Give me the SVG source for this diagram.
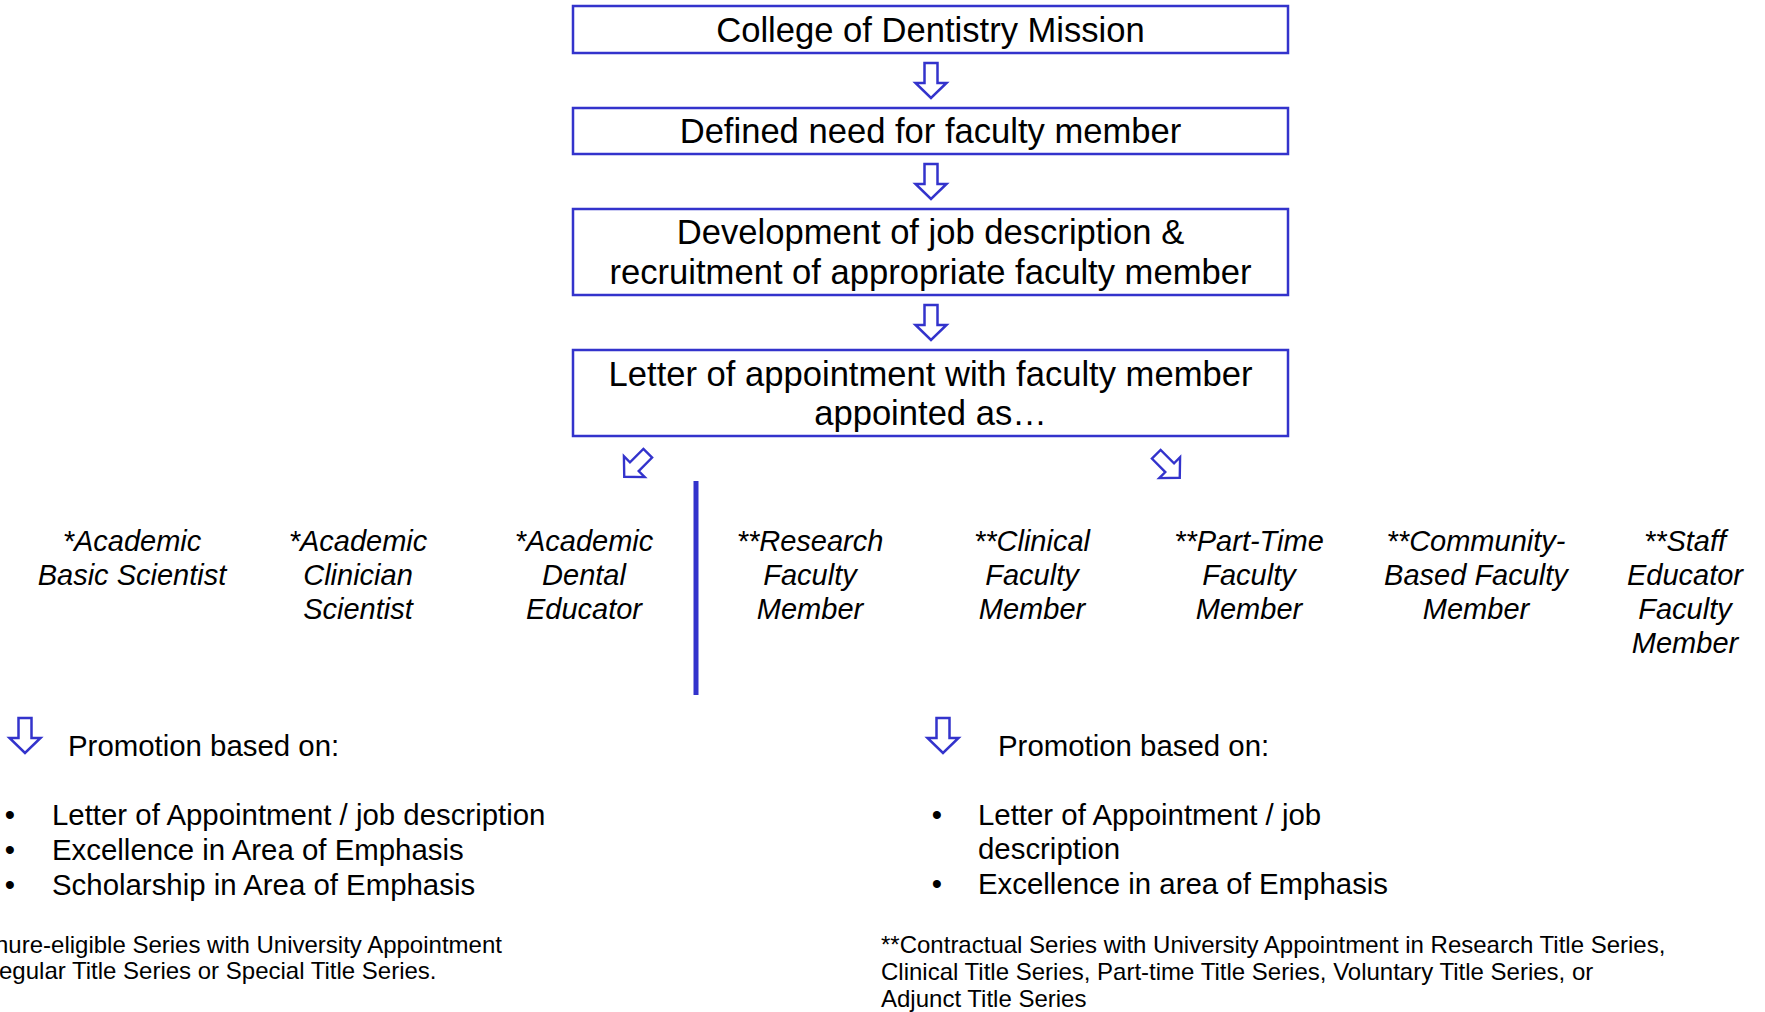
<svg xmlns="http://www.w3.org/2000/svg" width="1765" height="1012" viewBox="0 0 1765 1012">
  <defs>
    <style>
      .box { fill: #ffffff; stroke: #3333cc; stroke-width: 2.5; }
      .arrow { fill: #ffffff; stroke: #3333cc; stroke-width: 2.5; stroke-linejoin: miter; }
      .divider { stroke: #3333cc; stroke-width: 5; }
      .boxtext { font-family: "Liberation Sans", Arial, sans-serif; font-size: 34.6px; fill: #000; text-anchor: middle; }
      .role { font-family: "Liberation Sans", Arial, sans-serif; font-size: 29px; font-style: italic; fill: #000; text-anchor: middle; }
      .body { font-family: "Liberation Sans", Arial, sans-serif; font-size: 29.4px; fill: #000; }
      .bullet { font-family: "Liberation Sans", Arial, sans-serif; font-size: 29.4px; fill: #000; text-anchor: middle; }
      .note { font-family: "Liberation Sans", Arial, sans-serif; font-size: 24px; fill: #000; }
    </style>
    <polygon id="downArrow" points="-6.5,0 6.5,0 6.5,20 15.5,20 0,35 -15.5,20 -6.5,20"/>
  </defs>
  <rect width="1765" height="1012" fill="#ffffff"/>

  <g id="connectors">
    <use href="#downArrow" class="arrow" x="931" y="63"/>
    <use href="#downArrow" class="arrow" x="931" y="164"/>
    <use href="#downArrow" class="arrow" x="931" y="305"/>
    <g transform="translate(636,465) rotate(45) scale(0.95) translate(0,-17.5)"><use href="#downArrow" class="arrow"/></g>
    <g transform="translate(1168,466) rotate(-45) scale(0.95) translate(0,-17.5)"><use href="#downArrow" class="arrow"/></g>
    <line class="divider" x1="696" y1="481" x2="696" y2="695"/>
    <use href="#downArrow" class="arrow" x="25" y="718"/>
    <use href="#downArrow" class="arrow" x="943" y="718"/>
  </g>

  <g id="node-mission">
    <rect class="box" x="573" y="6" width="715" height="47"/>
    <text class="boxtext" x="930.5" y="42">College of Dentistry Mission</text>
  </g>
  <g id="node-need">
    <rect class="box" x="573" y="108" width="715" height="46"/>
    <text class="boxtext" x="930.5" y="143">Defined need for faculty member</text>
  </g>
  <g id="node-development">
    <rect class="box" x="573" y="209" width="715" height="86"/>
    <text class="boxtext" x="930.5" y="244">Development of job description &amp;</text>
    <text class="boxtext" x="930.5" y="284">recruitment of appropriate faculty member</text>
  </g>
  <g id="node-letter">
    <rect class="box" x="573" y="350" width="715" height="86"/>
    <text class="boxtext" x="930.5" y="386">Letter of appointment with faculty member</text>
    <text class="boxtext" x="930.5" y="425">appointed as…</text>
  </g>

  <g id="node-basic-scientist">
    <text class="role" x="132" y="551">*Academic</text>
    <text class="role" x="132" y="585">Basic Scientist</text>
  </g>
  <g id="node-clinician-scientist">
    <text class="role" x="358" y="551">*Academic</text>
    <text class="role" x="358" y="585">Clinician</text>
    <text class="role" x="358" y="619">Scientist</text>
  </g>
  <g id="node-dental-educator">
    <text class="role" x="584" y="551">*Academic</text>
    <text class="role" x="584" y="585">Dental</text>
    <text class="role" x="584" y="619">Educator</text>
  </g>
  <g id="node-research">
    <text class="role" x="810" y="551">**Research</text>
    <text class="role" x="810" y="585">Faculty</text>
    <text class="role" x="810" y="619">Member</text>
  </g>
  <g id="node-clinical">
    <text class="role" x="1032" y="551">**Clinical</text>
    <text class="role" x="1032" y="585">Faculty</text>
    <text class="role" x="1032" y="619">Member</text>
  </g>
  <g id="node-part-time">
    <text class="role" x="1249" y="551">**Part-Time</text>
    <text class="role" x="1249" y="585">Faculty</text>
    <text class="role" x="1249" y="619">Member</text>
  </g>
  <g id="node-community">
    <text class="role" x="1476" y="551">**Community-</text>
    <text class="role" x="1476" y="585">Based Faculty</text>
    <text class="role" x="1476" y="619">Member</text>
  </g>
  <g id="node-staff-educator">
    <text class="role" x="1685" y="551">**Staff</text>
    <text class="role" x="1685" y="585">Educator</text>
    <text class="role" x="1685" y="619">Faculty</text>
    <text class="role" x="1685" y="653">Member</text>
  </g>

  <g id="node-promotion-left">
    <text class="body" x="68" y="756">Promotion based on:</text>
    <text class="bullet" x="10" y="825">•</text>
    <text class="body" x="52" y="825">Letter of Appointment / job description</text>
    <text class="bullet" x="10" y="860">•</text>
    <text class="body" x="52" y="860">Excellence in Area of Emphasis</text>
    <text class="bullet" x="10" y="895">•</text>
    <text class="body" x="52" y="895">Scholarship in Area of Emphasis</text>
  </g>
  <g id="node-promotion-right">
    <text class="body" x="998" y="756">Promotion based on:</text>
    <text class="bullet" x="937" y="825">•</text>
    <text class="body" x="978" y="825">Letter of Appointment / job</text>
    <text class="body" x="978" y="859">description</text>
    <text class="bullet" x="937" y="894">•</text>
    <text class="body" x="978" y="894">Excellence in area of Emphasis</text>
  </g>

  <g id="node-footnote-left">
    <text class="note" x="-5" y="953">nure-eligible Series with University Appointment</text>
    <text class="note" x="-1" y="979">egular Title Series or Special Title Series.</text>
  </g>
  <g id="node-footnote-right">
    <text class="note" x="881" y="953">**Contractual Series with University Appointment in Research Title Series,</text>
    <text class="note" x="881" y="980">Clinical Title Series, Part-time Title Series, Voluntary Title Series, or</text>
    <text class="note" x="881" y="1007">Adjunct Title Series</text>
  </g>
</svg>
